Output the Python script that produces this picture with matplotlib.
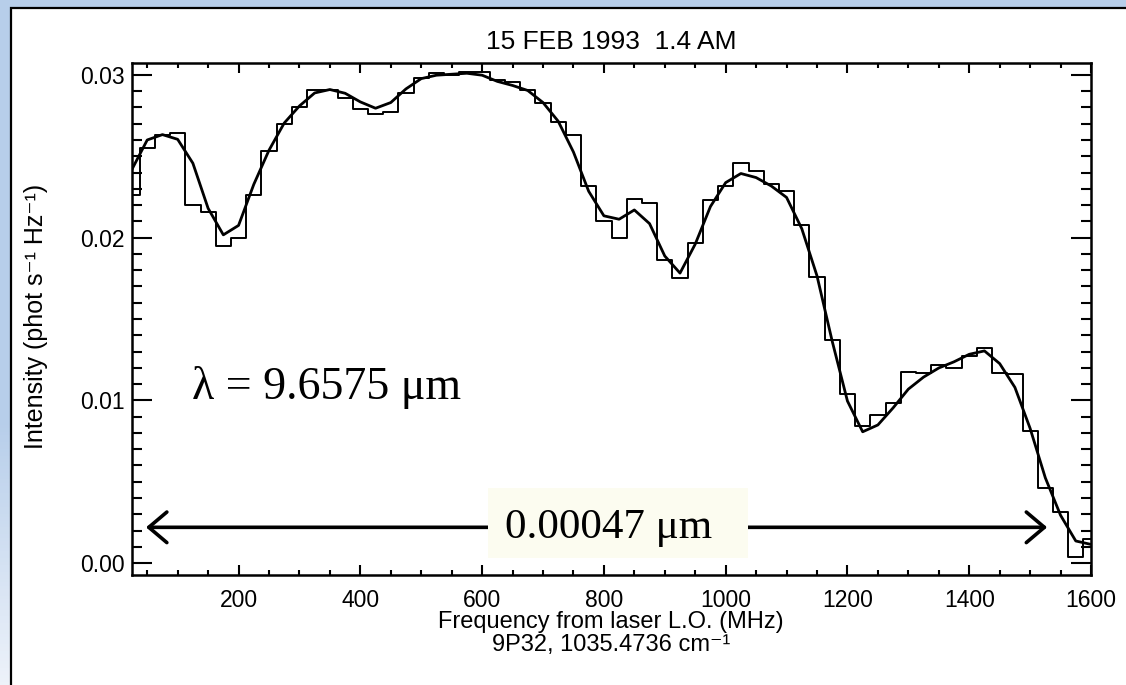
import matplotlib
matplotlib.use("Agg")
import matplotlib.pyplot as plt
from matplotlib.patches import Rectangle
from matplotlib.ticker import MultipleLocator, FormatStrFormatter
import numpy as np

plt.rcParams['font.family'] = ['Liberation Sans', 'DejaVu Sans']

# frequency from laser L.O. (MHz), 25 MHz channels
freq = [25, 50, 75, 100, 125, 150, 175, 200, 225, 250, 275, 300, 325, 350, 375, 400,
        425, 450, 475, 500, 525, 550, 575, 600, 625, 650, 675, 700, 725, 750, 775, 800,
        825, 850, 875, 900, 925, 950, 975, 1000, 1025, 1050, 1075, 1100, 1125, 1150, 1175, 1200,
        1225, 1250, 1275, 1300, 1325, 1350, 1375, 1400, 1425, 1450, 1475, 1500, 1525, 1550, 1575, 1600]

# observed spectrum (histogram), phot s-1 Hz-1
spec = [0.0226, 0.0255, 0.0263, 0.0264, 0.0220, 0.0216, 0.0195, 0.0200, 0.0226, 0.0253, 0.0270, 0.0280, 0.0291, 0.0291, 0.02855, 0.0279,
        0.0276, 0.0277, 0.0289, 0.0298, 0.0301, 0.0300, 0.03015, 0.0302, 0.0297, 0.02955, 0.02905, 0.0283, 0.0271, 0.0263, 0.0232, 0.0210,
        0.0200, 0.0224, 0.0221, 0.0186, 0.0175, 0.0197, 0.0223, 0.0232, 0.0246, 0.0241, 0.0233, 0.02285, 0.02075, 0.0176, 0.0137, 0.0104,
        0.0084, 0.0091, 0.00985, 0.01175, 0.0117, 0.0122, 0.0120, 0.01275, 0.0132, 0.0117, 0.01165, 0.0081, 0.0046, 0.00315, 0.0004, 0.0015]

# fitted model (smooth curve)
model = [0.0242, 0.0260, 0.02633, 0.02604, 0.02457, 0.0218, 0.02017, 0.02075, 0.02327, 0.02537, 0.02704, 0.02809, 0.02889, 0.0291, 0.02887, 0.02834,
         0.02795, 0.0283, 0.02914, 0.02977, 0.02998, 0.03004, 0.0301, 0.02998, 0.0296, 0.02935, 0.02904, 0.0283, 0.02715, 0.02526, 0.02285, 0.02134,
         0.02113, 0.0217, 0.02086, 0.01887, 0.01782, 0.0196, 0.02191, 0.02338, 0.02394, 0.02369, 0.02317, 0.02247, 0.02055, 0.01765, 0.01363, 0.00996,
         0.00807, 0.00849, 0.00954, 0.01069, 0.01143, 0.01199, 0.01237, 0.01283, 0.01304, 0.01226, 0.0108, 0.00828, 0.00524, 0.00294, 0.00136, 0.00115]

W, H = 1126, 685
fig = plt.figure(figsize=(W / 100, H / 100), dpi=100)

# slide-like blue background with white panel
bg = fig.add_axes([0, 0, 1, 1])
grad = np.ones((200, 2, 3))
top_col = np.array([0.72, 0.81, 0.92])
low_col = np.array([0.93, 0.95, 0.98])
t = np.clip((np.linspace(0, 1, 200) - 0.62) / 0.38, 0, 1)[:, None]
grad[:] = (top_col * (1 - t) + low_col * t)[:, None, :]
bg.imshow(grad, extent=[0, 1, 0, 1], aspect='auto', origin='upper')
bg.add_patch(Rectangle((11 / W, -0.1), 1.2, 1.1 - 8 / H, transform=bg.transAxes,
                       facecolor='white', edgecolor='black', lw=1.6))
bg.set_xlim(0, 1)
bg.set_ylim(0, 1)
bg.axis('off')

ax = fig.add_axes([132 / W, 1 - 575 / H, 959 / W, 512 / H])
ax.set_zorder(2)
ax.patch.set_alpha(0)

ax.step(freq, spec, where='mid', color='black', lw=1.4)
ax.plot(freq, model, color='black', lw=2.0)

ax.set_xlim(25, 1600)
ax.set_ylim(-0.00073, 0.03073)

ax.xaxis.set_major_locator(MultipleLocator(200))
ax.xaxis.set_minor_locator(MultipleLocator(50))
ax.yaxis.set_major_locator(MultipleLocator(0.01))
ax.yaxis.set_minor_locator(MultipleLocator(0.001))
ax.yaxis.set_major_formatter(FormatStrFormatter('%.2f'))

ax.tick_params(axis='both', which='both', direction='in', top=True, right=True,
               width=1.5, labelsize=16.5)
ax.tick_params(axis='x', which='major', length=7.2, pad=10)
ax.tick_params(axis='x', which='minor', length=3.6)
ax.tick_params(axis='y', which='major', length=14.4, pad=5)
ax.tick_params(axis='y', which='minor', length=7.2)
for sp in ax.spines.values():
    sp.set_linewidth(1.8)

# wavelength span arrow with label box
ax.annotate('', xy=(48, 0.0022), xytext=(1528, 0.0022),
            arrowprops=dict(arrowstyle='<->, head_length=0.65, head_width=0.55',
                            lw=2.6, color='black', mutation_scale=20,
                            shrinkA=0, shrinkB=0))
ax.add_patch(Rectangle((610, 0.0003), 427, 0.0043, facecolor='#fcfcf0',
                       edgecolor='none', zorder=3))
ax.text(808, 0.00155, '0.00047 \u03bcm', family='Liberation Serif', fontsize=31,
        ha='center', va='baseline', zorder=4)
ax.text(123, 0.0101, '\u03bb = 9.6575 \u03bcm', family='Liberation Serif', fontsize=33,
        ha='left', va='baseline')

fig.text(611 / W, 1 - 42 / H, '15 FEB 1993  1.4 AM', fontsize=19, ha='center', va='center')
fig.text(611 / W, 1 - 622 / H, 'Frequency from laser L.O. (MHz)', fontsize=17,
         ha='center', va='center')
fig.text(611 / W, 1 - 645 / H, '9P32, 1035.4736 cm\u207b\u00b9', fontsize=17,
         ha='center', va='center')
fig.text(36 / W, 1 - 316 / H, 'Intensity (phot s\u207b\u00b9 Hz\u207b\u00b9)', fontsize=18,
         rotation=90, ha='center', va='center')

fig.savefig('out.png', dpi=100)
